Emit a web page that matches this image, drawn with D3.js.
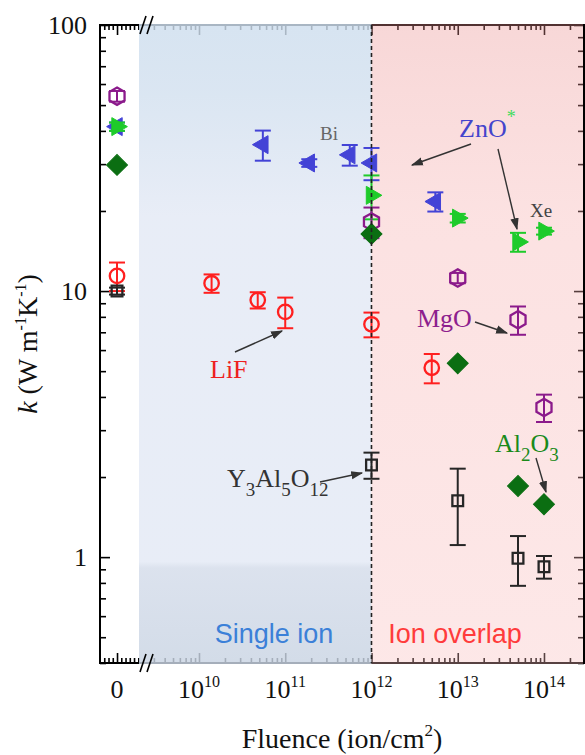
<!DOCTYPE html>
<html>
<head>
<meta charset="utf-8">
<script src="https://cdnjs.cloudflare.com/ajax/libs/d3/7.8.5/d3.min.js"></script>
<style>
    body { margin: 0; background: #fff; }
    svg { display: block; }
    text { font-family: "Liberation Serif", "Times New Roman", serif; }
</style>
</head>
<body>
<svg id="chart" width="585" height="755"></svg>
<script>
// fluence in ion/cm2, 0 = pristine; k in W m-1 K-1
let lifFluence = [0, 1.4e10, 4.8e10, 1e11, 1e12, 5e12];
let lifK = [11.4, 10.7, 9.25, 8.35, 7.5, 5.15];
let lifErr = [1.4, 0.85, 0.65, 1.1, 0.8, 0.65];

let mgoFluence = [0, 1e12, 1e13, 5e13, 1e14];
let mgoK = [54, 18.2, 11.2, 7.8, 3.65];
let mgoErr = [2.5, 2.4, 0.5, 0.95, 0.43];

let znoBiFluence = [0, 5.5e10, 1.9e11, 5.6e11, 1e12, 5.5e12];
let znoBiK = [41.5, 35.5, 30.3, 32.5, 30.3, 21.7];
let znoBiErr = [1.5, 4.6, 1, 2.9, 4.2, 1.8];

let znoXeFluence = [0, 1e12, 1e13, 5e13, 1e14];
let znoXeK = [41.5, 22.9, 18.8, 15.3, 16.8];
let znoXeErr = [1.5, 4.3, 0.7, 1.25, 0.5];

let al2o3Fluence = [0, 1e12, 1e13, 5e13, 1e14];
let al2o3K = [29.8, 16.4, 5.35, 1.85, 1.58];
let al2o3Err = [0, 0, 0, 0, 0];

let yagFluence = [0, 1e12, 1e13, 5e13, 1e14];
let yagK = [10, 2.22, 1.63, 0.99, 0.92];
let yagErr = [0.3, 0.25, 0.52, 0.21, 0.09];

let yTicks = [1, 10, 100];
let xTicks = [1e10, 1e11, 1e12, 1e13, 1e14];
let overlapStart = 1e12;

let svg = d3.select("#chart");
let pLeft = 100, pRight = 584, pTop = 25, pBottom = 663;

let y = d3.scaleLog().domain([0.4, 100]).range([pBottom, pTop]);
let x = d3.scaleLog().domain([Math.pow(10, 9.432), Math.pow(10, 14.464)]).range([150, pRight]);
// small linear segment for the pristine samples, left of the break
let x0 = d3.scaleLinear().domain([-1, 1.35]).range([pLeft, 140]);

function xPos(f) {
    return f === 0 ? x0(0) : x(f);
}

//gradients for the two regions
let defs = svg.append("defs");
function addGrad(id, stops) {
    let g = defs.append("linearGradient")
        .attr("id", id)
        .attr("x1", 0).attr("y1", 0)
        .attr("x2", 0).attr("y2", 1);
    stops.forEach(s => {
        g.append("stop").attr("offset", s[0]).attr("stop-color", s[1]);
    });
}
addGrad("blueGrad", [[0, "#cedeee"], [0.1, "#d2e0ef"], [0.3, "#e3e9f5"], [0.84, "#e3e9f5"], [0.85, "#d4dcea"], [1, "#c9d4e3"]]);
addGrad("pinkGrad", [[0, "#ea8e8e"], [0.3, "#f6abab"], [1, "#f9bcbc"]]);

let marker = defs.append("marker")
    .attr("id", "arrow")
    .attr("viewBox", "0 0 10 10")
    .attr("refX", 9)
    .attr("refY", 5)
    .attr("markerWidth", 12)
    .attr("markerHeight", 12)
    .attr("markerUnits", "userSpaceOnUse")
    .attr("orient", "auto");
marker.append("path")
    .attr("d", "M0,1.5 L10,5 L0,8.5 Z")
    .attr("fill", "#333");

// axes (ticks point inward)
let axes = svg.append("g");
let xMinor = x.ticks().filter(t => x(t) >= 152 && xTicks.indexOf(t) < 0);
let yMinor = y.ticks().filter(t => yTicks.indexOf(t) < 0);
let x0Minor = d3.range(-0.75, 1.3, 0.25).filter(v => Math.abs(v) > 0.01);

function tickAxis(gen, transform) {
    axes.append("g")
        .attr("transform", transform)
        .call(gen)
        .call(g => g.select(".domain").remove())
        .call(g => g.selectAll("line").attr("stroke", "#000").attr("stroke-width", 1.6));
}
tickAxis(d3.axisBottom(x).tickValues(xTicks).tickSizeInner(-10).tickSizeOuter(0).tickFormat(""), `translate(0,${pBottom})`);
tickAxis(d3.axisBottom(x).tickValues(xMinor).tickSizeInner(-5).tickSizeOuter(0).tickFormat(""), `translate(0,${pBottom})`);
tickAxis(d3.axisTop(x).tickValues(xTicks).tickSizeInner(-10).tickSizeOuter(0).tickFormat(""), `translate(0,${pTop})`);
tickAxis(d3.axisTop(x).tickValues(xMinor).tickSizeInner(-5).tickSizeOuter(0).tickFormat(""), `translate(0,${pTop})`);
tickAxis(d3.axisBottom(x0).tickValues([0]).tickSizeInner(-10).tickSizeOuter(0).tickFormat(""), `translate(0,${pBottom})`);
tickAxis(d3.axisBottom(x0).tickValues(x0Minor).tickSizeInner(-5).tickSizeOuter(0).tickFormat(""), `translate(0,${pBottom})`);
tickAxis(d3.axisTop(x0).tickValues([0]).tickSizeInner(-10).tickSizeOuter(0).tickFormat(""), `translate(0,${pTop})`);
tickAxis(d3.axisTop(x0).tickValues(x0Minor).tickSizeInner(-5).tickSizeOuter(0).tickFormat(""), `translate(0,${pTop})`);
tickAxis(d3.axisLeft(y).tickValues(yTicks).tickSizeInner(-10).tickSizeOuter(0).tickFormat(""), `translate(${pLeft},0)`);
tickAxis(d3.axisLeft(y).tickValues(yMinor).tickSizeInner(-6).tickSizeOuter(0).tickFormat(""), `translate(${pLeft},0)`);
tickAxis(d3.axisRight(y).tickValues(yTicks).tickSizeInner(-10).tickSizeOuter(0).tickFormat(""), `translate(${pRight},0)`);
tickAxis(d3.axisRight(y).tickValues(yMinor).tickSizeInner(-6).tickSizeOuter(0).tickFormat(""), `translate(${pRight},0)`);

axes.append("rect")
    .attr("x", pLeft)
    .attr("y", pTop)
    .attr("width", pRight - pLeft)
    .attr("height", pBottom - pTop)
    .attr("fill", "none")
    .attr("stroke", "#000")
    .attr("stroke-width", 2);

// shaded regions, laid over the frame so ticks show through faintly
svg.append("rect")
    .attr("x", 139)
    .attr("y", pTop - 1)
    .attr("width", x(overlapStart) - 139)
    .attr("height", pBottom - pTop + 2)
    .attr("fill", "url(#blueGrad)")
    .attr("opacity", 0.82);
svg.append("rect")
    .attr("x", x(overlapStart))
    .attr("y", pTop - 1)
    .attr("width", pRight - 1 - x(overlapStart))
    .attr("height", pBottom - pTop + 2)
    .attr("fill", "url(#pinkGrad)")
    .attr("opacity", 0.35);

// axis break marks
[pTop, pBottom].forEach(yy => {
    [143, 150].forEach(xx => {
        svg.append("line")
            .attr("x1", xx - 3).attr("y1", yy + 9)
            .attr("x2", xx + 3).attr("y2", yy - 9)
            .attr("stroke", "#000")
            .attr("stroke-width", 1.6);
    });
});

// tick labels
let yLab = svg.append("g");
yTicks.forEach(t => {
    yLab.append("text")
        .attr("x", 87)
        .attr("y", y(t) + 9)
        .attr("text-anchor", "end")
        .attr("font-size", 26)
        .attr("fill", "#111")
        .text(t);
});
svg.append("text")
    .attr("x", x0(0))
    .attr("y", 698)
    .attr("text-anchor", "middle")
    .attr("font-size", 26)
    .attr("fill", "#111")
    .text("0");
xTicks.forEach(t => {
    let lab = svg.append("text")
        .attr("x", x(t))
        .attr("y", 698)
        .attr("text-anchor", "middle")
        .attr("font-size", 26)
        .attr("fill", "#111");
    lab.append("tspan").text("10");
    lab.append("tspan")
        .attr("dy", -11)
        .attr("font-size", 16)
        .text(Math.round(Math.log10(t)));
});

// axis titles
let xt = svg.append("text")
    .attr("x", 342)
    .attr("y", 748)
    .attr("text-anchor", "middle")
    .attr("font-size", 28)
    .attr("fill", "#111");
xt.append("tspan").text("Fluence (ion/cm");
xt.append("tspan").attr("dy", -12).attr("font-size", 17).text("2");
xt.append("tspan").attr("dy", 12).text(")");

let yt = svg.append("text")
    .attr("transform", "translate(37,344) rotate(-90)")
    .attr("text-anchor", "middle")
    .attr("font-size", 28)
    .attr("fill", "#111");
yt.append("tspan").attr("font-style", "italic").text("k");
yt.append("tspan").text(" (W m");
yt.append("tspan").attr("dy", -11).attr("font-size", 16).text("-1");
yt.append("tspan").attr("dy", 11).text("K");
yt.append("tspan").attr("dy", -11).attr("font-size", 16).text("-1");
yt.append("tspan").attr("dy", 11).text(")");

// region labels
svg.append("text")
    .attr("x", 274)
    .attr("y", 643)
    .attr("text-anchor", "middle")
    .attr("font-size", 27)
    .style("font-family", "'Liberation Sans', Arial, sans-serif")
    .attr("fill", "#3b80d8")
    .text("Single ion");
svg.append("text")
    .attr("x", 455)
    .attr("y", 643)
    .attr("text-anchor", "middle")
    .attr("font-size", 27)
    .style("font-family", "'Liberation Sans', Arial, sans-serif")
    .attr("fill", "#ff3b3b")
    .text("Ion overlap");

// marker shapes
let hexagon = {
    draw: function (ctx, size) {
        let r = Math.sqrt(size / 2.6);
        let pts = [[0, -r], [r * 0.87, -r / 2], [r * 0.87, r / 2], [0, r], [-r * 0.87, r / 2], [-r * 0.87, -r / 2]];
        ctx.moveTo(pts[0][0], pts[0][1]);
        for (let i = 1; i < pts.length; i++) ctx.lineTo(pts[i][0], pts[i][1]);
        ctx.closePath();
    }
};

let series = [
    { f: znoBiFluence, k: znoBiK, e: znoBiErr, color: "#4343d6", type: d3.symbolTriangle, size: 140, rot: -90, filled: true },
    { f: znoXeFluence, k: znoXeK, e: znoXeErr, color: "#1ecb2a", type: d3.symbolTriangle, size: 140, rot: 90, filled: true },
    { f: mgoFluence, k: mgoK, e: mgoErr, color: "#8b1a8b", type: hexagon, size: 195, rot: 0, filled: false },
    { f: al2o3Fluence, k: al2o3K, e: al2o3Err, color: "#0b6e12", type: d3.symbolSquare, size: 220, rot: 45, filled: true },
    { f: lifFluence, k: lifK, e: lifErr, color: "#ff1f1f", type: d3.symbolCircle, size: 165, rot: 0, filled: false },
    { f: yagFluence, k: yagK, e: yagErr, color: "#262626", type: d3.symbolSquare, size: 115, rot: 0, filled: false }
];

let plot = svg.append("g");
series.forEach(s => {
    let pts = s.f.map((f, i) => ({ f: f, k: s.k[i], e: s.e[i] }));
    let g = plot.append("g");

    let eb = g.selectAll("g.err")
        .data(pts.filter(d => d.e > 0))
        .enter()
        .append("g")
        .attr("class", "err")
        .attr("stroke", s.color)
        .attr("stroke-width", 2);
    eb.append("line")
        .attr("x1", d => xPos(d.f))
        .attr("x2", d => xPos(d.f))
        .attr("y1", d => y(d.k + d.e))
        .attr("y2", d => y(d.k - d.e));
    eb.append("line")
        .attr("x1", d => xPos(d.f) - 8)
        .attr("x2", d => xPos(d.f) + 8)
        .attr("y1", d => y(d.k + d.e))
        .attr("y2", d => y(d.k + d.e));
    eb.append("line")
        .attr("x1", d => xPos(d.f) - 8)
        .attr("x2", d => xPos(d.f) + 8)
        .attr("y1", d => y(d.k - d.e))
        .attr("y2", d => y(d.k - d.e));

    g.selectAll("path.pt")
        .data(pts)
        .enter()
        .append("path")
        .attr("class", "pt")
        .attr("d", d3.symbol().type(s.type).size(s.size))
        .attr("transform", d => `translate(${xPos(d.f)},${y(d.k)}) rotate(${s.rot})`)
        .attr("fill", s.filled ? s.color : "none")
        .attr("stroke", s.color)
        .attr("stroke-width", s.filled ? 1 : 2.3);
});

// boundary between regions
svg.append("line")
    .attr("x1", x(overlapStart))
    .attr("x2", x(overlapStart))
    .attr("y1", pTop)
    .attr("y2", pBottom)
    .attr("stroke", "#222")
    .attr("stroke-width", 1.6)
    .attr("stroke-dasharray", "4,3");

// annotation arrows
let arrows = [
    [235, 352, 282, 331],
    [471, 144, 412, 165],
    [498, 149, 517, 229],
    [475, 322, 507, 333],
    [536, 458, 546, 492],
    [320, 482, 362, 473]
];
svg.append("g")
    .selectAll("line")
    .data(arrows)
    .enter()
    .append("line")
    .attr("x1", d => d[0])
    .attr("y1", d => d[1])
    .attr("x2", d => d[2])
    .attr("y2", d => d[3])
    .attr("stroke", "#333")
    .attr("stroke-width", 1.4)
    .attr("marker-end", "url(#arrow)");

function note(xx, yy, parts, color, size) {
    let t = svg.append("text")
        .attr("x", xx)
        .attr("y", yy)
        .attr("font-size", size)
        .attr("fill", color);
    parts.forEach(p => {
        if (typeof p === "string") {
            t.append("tspan").text(p);
        } else {
            t.append("tspan").attr("dy", p.dy).attr("font-size", p.size || size).attr("fill", p.color || color).text(p.t);
        }
    });
    return t;
}
note(320, 140, ["Bi"], "#666", 19);
note(530, 217, ["Xe"], "#444", 19);
note(459, 137, ["ZnO", { t: "*", dy: -14, size: 18, color: "#3fdc5a" }], "#4444cc", 26);
note(210, 378, ["LiF"], "#ee2020", 26);
note(417, 327, ["MgO"], "#8e1f8e", 26);
note(495, 452, ["Al", { t: "2", dy: 9, size: 19 }, { t: "O", dy: -9 }, { t: "3", dy: 9, size: 19 }], "#1a8a1a", 26);
note(227, 487, ["Y", { t: "3", dy: 9, size: 19 }, { t: "Al", dy: -9 }, { t: "5", dy: 9, size: 19 }, { t: "O", dy: -9 }, { t: "12", dy: 9, size: 19 }], "#333", 26);
</script>
</body>
</html>
